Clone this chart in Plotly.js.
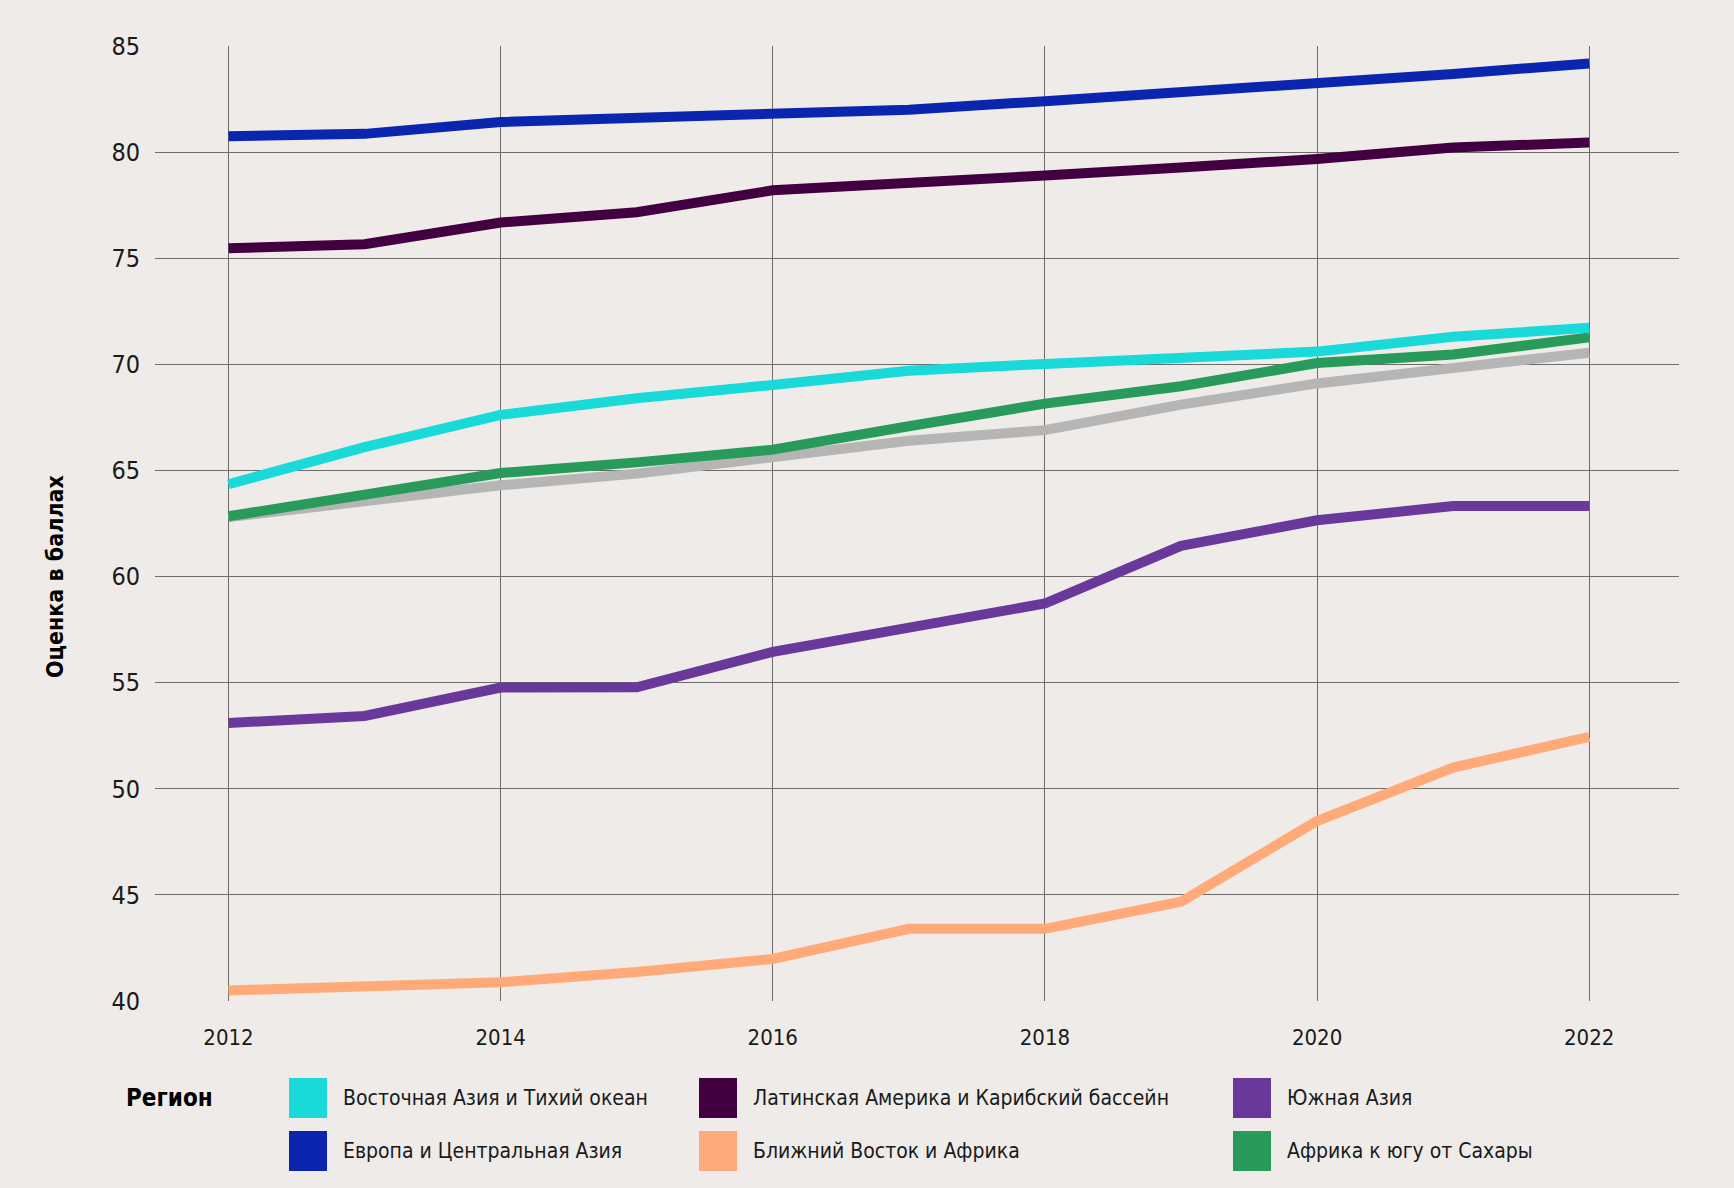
<!DOCTYPE html>
<html><head><meta charset="utf-8">
<script src="https://cdn.plot.ly/plotly-3.0.1.min.js"></script>
<style>html,body{margin:0;padding:0;background:#EFEBE8;}#chart{width:1734px;height:1188px;}</style>
</head><body><div id="chart"></div><script>
const years = [2012, 2013, 2014, 2015, 2016, 2017, 2018, 2019, 2020, 2021, 2022];
const worldAvg      = [62.8, 63.5, 64.3, 64.85, 65.6, 66.4, 66.9, 68.1, 69.1, 69.8, 70.55];
const eastAsia      = [64.35, 66.1, 67.62, 68.4, 69.03, 69.7, 70.02, 70.3, 70.6, 71.3, 71.72];
const latinAmerica  = [75.47, 75.66, 76.68, 77.17, 78.2, 78.6, 78.9, 79.27, 79.68, 80.22, 80.45];
const southAsia     = [53.1, 53.43, 54.77, 54.78, 56.45, 57.57, 58.73, 61.45, 62.65, 63.32, 63.32];
const europe        = [80.75, 80.86, 81.42, 81.62, 81.78, 82.0, 82.4, 82.82, 83.22, 83.68, 84.18];
const middleEast    = [40.5, 40.68, 40.88, 41.37, 41.98, 43.4, 43.4, 44.68, 48.48, 51.0, 52.45];
const subSaharan    = [62.84, 63.87, 64.88, 65.38, 65.98, 67.08, 68.15, 68.97, 70.06, 70.46, 71.27];

const legendTitle = "Регион";
const yTitle = "Оценка в баллах";
const seriesNames = ["Восточная Азия и Тихий океан", "Латинская Америка и Карибский бассейн", "Южная Азия",
                     "Европа и Центральная Азия", "Ближний Восток и Африка", "Африка к югу от Сахары"];
const seriesValues = [eastAsia, latinAmerica, southAsia, europe, middleEast, subSaharan];
const seriesColors = ["#19D9D9", "#420042", "#6A389A", "#0A25B0", "#FFAA78", "#289B5A"];
const greyColor = "#B5B5B5";

const FONT = '"Liberation Sans Narrow", "DejaVu Sans Condensed", "Roboto", sans-serif';
const BG = "#EFEBE8";

const traces = [{
  x: years, y: worldAvg, type: 'scatter', mode: 'lines', name: 'Мир',
  line: {color: greyColor, width: 10}, showlegend: false, hoverinfo: 'skip'
}];
// draw order: grey, green, cyan, orange, purple, latin, europe
const order = [5, 0, 4, 2, 1, 3];
order.forEach(i => traces.push({
  x: years, y: seriesValues[i], type: 'scatter', mode: 'lines', name: seriesNames[i],
  line: {color: seriesColors[i], width: 10}, showlegend: false
}));

// layout geometry (pixels)
const W = 1734, H = 1188, L = 155, R = 55, T = 46, B = 187;
const pw = W - L - R, ph = H - T - B;
const px = v => (v - L) / pw;
const py = v => (H - B - v) / ph;

const shapes = [], annotations = [];
const colX = [289, 699, 1233];
const rowY = [1098, 1151];
seriesNames.forEach((n, i) => {
  const c = i % 3, r = Math.floor(i / 3);
  shapes.push({type: 'rect', xref: 'paper', yref: 'paper', layer: 'above',
    x0: px(colX[c]), x1: px(colX[c] + 38), y0: py(rowY[r] - 20), y1: py(rowY[r] + 20),
    fillcolor: seriesColors[i], line: {width: 0}});
  annotations.push({xref: 'paper', yref: 'paper', x: px(colX[c] + 52), y: py(rowY[r]),
    xanchor: 'left', yanchor: 'middle', showarrow: false, text: n,
    font: {family: FONT, size: 21, color: '#1a1a1a'}});
});
annotations.push({xref: 'paper', yref: 'paper', x: px(169), y: py(1098), xanchor: 'center', yanchor: 'middle',
  showarrow: false, text: '<b>' + legendTitle + '</b>', font: {family: FONT, size: 24, color: '#000'}});
annotations.push({xref: 'paper', yref: 'paper', x: px(55), y: py(577), xanchor: 'center', yanchor: 'middle',
  showarrow: false, textangle: -90, text: '<b>' + yTitle + '</b>', font: {family: FONT, size: 23, color: '#000'}});

const layout = {
  width: W, height: H,
  margin: {l: L, r: R, t: T, b: B, pad: 0},
  paper_bgcolor: BG, plot_bgcolor: BG,
  font: {family: FONT, size: 24, color: '#1a1a1a'},
  showlegend: false,
  xaxis: {range: [2011.46, 2022.66], tickmode: 'array', tickvals: [2012, 2014, 2016, 2018, 2020, 2022],
    showgrid: true, gridcolor: '#6F6B69', gridwidth: 1, zeroline: false, showline: false,
    ticks: '', ticklabelstandoff: 21, tickfont: {family: FONT, size: 22, color: '#1a1a1a'}},
  yaxis: {range: [40, 85], tickmode: 'array', tickvals: [40, 45, 50, 55, 60, 65, 70, 75, 80, 85],
    showgrid: true, gridcolor: '#6F6B69', gridwidth: 1, zeroline: false, showline: false,
    ticks: '', ticklabelstandoff: 14, tickfont: {family: FONT, size: 25, color: '#1a1a1a'}},
  shapes: shapes, annotations: annotations
};
Plotly.newPlot('chart', traces, layout, {displayModeBar: false, staticPlot: true});
</script></body></html>
